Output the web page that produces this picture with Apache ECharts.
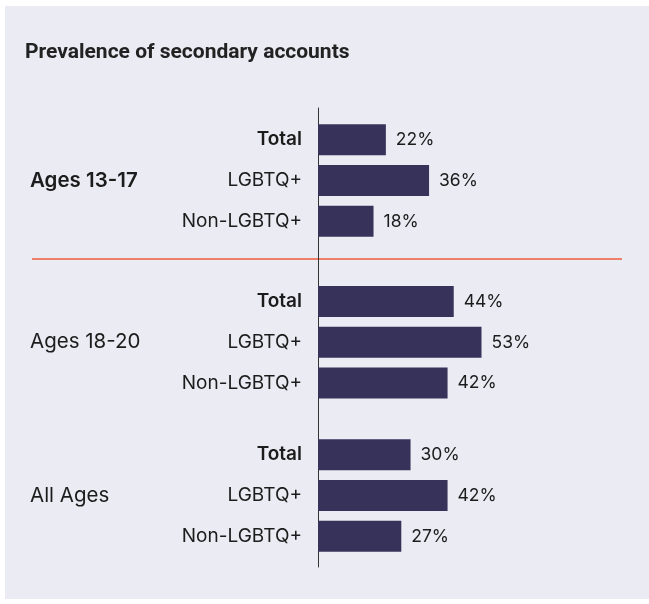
<!DOCTYPE html>
<html>
<head>
<meta charset="utf-8">
<script src="https://cdn.jsdelivr.net/npm/echarts@6/dist/echarts.min.js"></script>
<style>
  html, body { margin: 0; padding: 0; background: #ffffff; }
  #chart { width: 649px; height: 604px; }
</style>
</head>
<body>
<div id="chart"></div>
<script>
// data
const subgroups = ['Total', 'LGBTQ+', 'Non-LGBTQ+'];
const ageGroups = ['Ages 13-17', 'Ages 18-20', 'All Ages'];
const teens = [22, 36, 18];
const youngAdults = [44, 53, 42];
const allAges = [30, 42, 27];
const groupValues = [teens, youngAdults, allAges];

const FONT = 'Inter, "Noto Sans", sans-serif';
const BAR = '#37325a';
const TEXT = '#1c1c1c';

// layout for the three blocks
const gridTops = [119.3, 281.1, 434.3];
const rowH = 40.8;

const grid = gridTops.map(t => ({left: 318, top: t, width: 308.5, height: rowH * 3}));
grid.push({left: 318, top: 108, width: 308.5, height: 459}); // holds the long axis line

const xAxis = grid.map((g, i) => ({gridIndex: i, type: 'value', min: 0, max: 100, show: false}));

const yAxis = [];
ageGroups.forEach((name, i) => {
    yAxis.push({
        gridIndex: i, type: 'category', inverse: true, data: subgroups,
        axisLine: {show: false}, axisTick: {show: false},
        axisLabel: {
            margin: 16, fontSize: 19, color: TEXT, fontFamily: FONT,
            formatter: v => v === 'Total' ? '{b|' + v + '}' : v,
            rich: {b: {fontSize: 19, fontWeight: 600, color: TEXT, fontFamily: FONT}}
        }
    });
    yAxis.push({
        gridIndex: i, type: 'category', inverse: true, position: 'left', offset: 0,
        data: subgroups.map((s, j) => j === 1 ? name : ''),
        axisLine: {show: false}, axisTick: {show: false},
        axisLabel: {
            margin: 288, align: 'left', fontSize: 20.5, color: TEXT, fontFamily: FONT,
            fontWeight: i === 0 ? 600 : 400
        }
    });
});
yAxis.push({
    gridIndex: 3, type: 'value', min: 0, max: 1,
    axisLine: {show: true, lineStyle: {color: '#333333', width: 1}},
    axisTick: {show: false}, axisLabel: {show: false}, splitLine: {show: false}
});

const series = groupValues.map((vals, i) => ({
    type: 'bar',
    xAxisIndex: i, yAxisIndex: i * 2,
    barWidth: 31,
    itemStyle: {color: BAR},
    label: {
        show: true, position: 'right', distance: 10,
        formatter: '{c}%', fontSize: 17.5, color: TEXT, fontFamily: FONT
    },
    data: vals
}));

const chart = echarts.init(document.getElementById('chart'));
chart.setOption({
    animation: false,
    title: {
        text: 'Prevalence of secondary accounts',
        left: 25, top: 42, padding: 0,
        textStyle: {fontSize: 21, fontWeight: 700, color: '#222222', fontFamily: 'Roboto, Inter, sans-serif'}
    },
    graphic: [
        {type: 'rect', z: -10, shape: {x: 5, y: 6, width: 644, height: 593}, style: {fill: '#ebebf3'}},
        {type: 'line', z: -5, shape: {x1: 32, y1: 259, x2: 622, y2: 259}, style: {stroke: '#f07f67', lineWidth: 2}}
    ],
    grid: grid,
    xAxis: xAxis,
    yAxis: yAxis,
    series: series
});
</script>
</body>
</html>
